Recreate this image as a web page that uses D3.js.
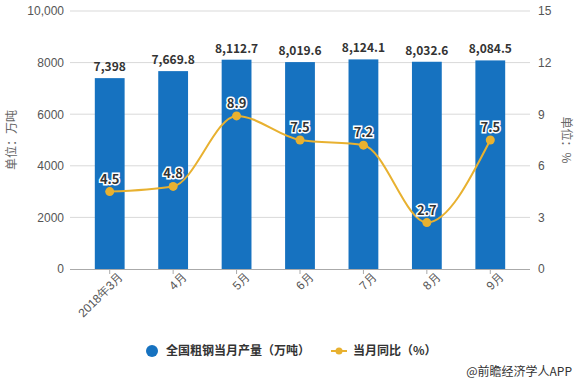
<!DOCTYPE html>
<html>
<head>
<meta charset="utf-8">
<script src="https://cdn.jsdelivr.net/npm/d3@7"></script>
<style>
  body { margin: 0; background: #fff; }
  svg { font-family: "Microsoft YaHei", "Noto Sans CJK SC", sans-serif; }
</style>
</head>
<body>
<svg width="576" height="384"></svg>
<script>
// data
var months = ['2018年3月', '4月', '5月', '6月', '7月', '8月', '9月'];
var output = [7398, 7669.8, 8112.7, 8019.6, 8124.1, 8032.6, 8084.5];
var outputLabels = ['7,398', '7,669.8', '8,112.7', '8,019.6', '8,124.1', '8,032.6', '8,084.5'];
var yoy = [4.5, 4.8, 8.9, 7.5, 7.2, 2.7, 7.5];
var leftTicks = [0, 2000, 4000, 6000, 8000, 10000];
var leftTickLabels = ['0', '2000', '4000', '6000', '8000', '10,000'];
var rightTicks = [0, 3, 6, 9, 12, 15];

var svgWidth = 576, svgHeight = 384;
var blue = '#1672c0', gold = '#e8b130';

var svg = d3.select('svg')
    .attr('width', svgWidth)
    .attr('height', svgHeight);

var xScale = d3.scaleBand()
    .domain(months)
    .range([78, 522])
    .paddingInner(0.53)
    .paddingOuter(0.265);

var yLeft = d3.scaleLinear().domain([0, 10000]).range([269, 11]);
var yRight = d3.scaleLinear().domain([0, 15]).range([269, 11]);

// grid lines
svg.selectAll('line.grid')
    .data(leftTicks.slice(1))
    .enter()
    .append('line')
    .attr('x1', 70).attr('x2', 530)
    .attr('y1', function(d) { return yLeft(d); })
    .attr('y2', function(d) { return yLeft(d); })
    .attr('stroke', '#d9d9d9')
    .attr('stroke-width', 1);

// left axis
var leftAxis = d3.axisLeft(yLeft)
    .tickValues(leftTicks)
    .tickSize(0)
    .tickPadding(6)
    .tickFormat(function(d, i) { return leftTickLabels[i]; });
var gl = svg.append('g').attr('transform', 'translate(70,0)').call(leftAxis);
gl.select('.domain').remove();
gl.selectAll('text').style('font-size', '12px').attr('fill', '#555');

// right axis
var rightAxis = d3.axisRight(yRight)
    .tickValues(rightTicks)
    .tickSize(0)
    .tickPadding(8);
var gr = svg.append('g').attr('transform', 'translate(530,0)').call(rightAxis);
gr.select('.domain').remove();
gr.selectAll('text').style('font-size', '12px').attr('fill', '#555');

// bars
svg.selectAll('rect.bar')
    .data(output)
    .enter()
    .append('rect')
    .attr('class', 'bar')
    .attr('x', function(d, i) { return xScale(months[i]); })
    .attr('y', function(d) { return yLeft(d); })
    .attr('width', xScale.bandwidth())
    .attr('height', function(d) { return yLeft(0) - yLeft(d); })
    .attr('fill', blue);

// x axis
var xAxis = d3.axisBottom(xScale).tickSize(5).tickSizeOuter(0);
var gx = svg.append('g').attr('transform', 'translate(0,269)').call(xAxis);
gx.select('.domain').attr('d', 'M-8,0.5H453').attr('stroke', '#aaa')
    .attr('d', 'M70,0.5H530');
gx.selectAll('.tick line').attr('stroke', '#aaa');
gx.selectAll('text')
    .style('font-size', '12px')
    .attr('fill', '#555')
    .attr('text-anchor', 'end')
    .attr('dx', '4')
    .attr('dy', '8')
    .attr('transform', 'rotate(-45)');

// bar value labels
svg.selectAll('text.barlabel')
    .data(output)
    .enter()
    .append('text')
    .text(function(d, i) { return outputLabels[i]; })
    .attr('x', function(d, i) { return xScale(months[i]) + xScale.bandwidth() / 2; })
    .attr('y', function(d) { return yLeft(d) - 7; })
    .attr('text-anchor', 'middle')
    .style('font', 'bold 12px "Microsoft YaHei", "Noto Sans CJK SC", sans-serif')
    .attr('fill', '#333');

// line
var cx = function(d, i) { return xScale(months[i]) + xScale.bandwidth() / 2; };
var line = d3.line()
    .x(cx)
    .y(function(d) { return yRight(d); })
    .curve(d3.curveMonotoneX);

svg.append('path')
    .datum(yoy)
    .attr('d', line)
    .attr('fill', 'none')
    .attr('stroke', gold)
    .attr('stroke-width', 2);

svg.selectAll('circle.pt')
    .data(yoy)
    .enter()
    .append('circle')
    .attr('cx', cx)
    .attr('cy', function(d) { return yRight(d); })
    .attr('r', 4.5)
    .attr('fill', gold);

svg.selectAll('text.linelabel')
    .data(yoy)
    .enter()
    .append('text')
    .text(function(d) { return d.toFixed(1); })
    .attr('x', cx)
    .attr('y', function(d) { return yRight(d) - 8; })
    .attr('text-anchor', 'middle')
    .style('font', 'bold 13px "Microsoft YaHei", "Noto Sans CJK SC", sans-serif')
    .attr('fill', '#333')
    .attr('stroke', '#fff')
    .attr('stroke-width', 3)
    .attr('paint-order', 'stroke');

// axis titles
svg.append('text')
    .text('单位：万吨')
    .attr('transform', 'translate(16,140) rotate(-90)')
    .attr('text-anchor', 'middle')
    .style('font-size', '12px')
    .attr('fill', '#666');

svg.append('text')
    .text('单位：%')
    .attr('transform', 'translate(562,140) rotate(90)')
    .attr('text-anchor', 'middle')
    .style('font-size', '12px')
    .attr('fill', '#666');

// legend
svg.append('circle').attr('cx', 152).attr('cy', 351).attr('r', 6).attr('fill', blue);
svg.append('text').text('全国粗钢当月产量（万吨）')
    .attr('x', 166).attr('y', 355)
    .style('font', 'bold 12px "Microsoft YaHei", "Noto Sans CJK SC", sans-serif')
    .attr('fill', '#333');
svg.append('line').attr('x1', 331).attr('x2', 347).attr('y1', 351).attr('y2', 351)
    .attr('stroke', gold).attr('stroke-width', 2);
svg.append('circle').attr('cx', 339).attr('cy', 351).attr('r', 3.5).attr('fill', gold);
svg.append('text').text('当月同比（%）')
    .attr('x', 353).attr('y', 355)
    .style('font', 'bold 12px "Microsoft YaHei", "Noto Sans CJK SC", sans-serif')
    .attr('fill', '#333');

// source
svg.append('text').text('@前瞻经济学人APP')
    .attr('x', 572).attr('y', 376)
    .attr('text-anchor', 'end')
    .style('font-size', '12px')
    .attr('fill', '#333');
</script>
</body>
</html>
